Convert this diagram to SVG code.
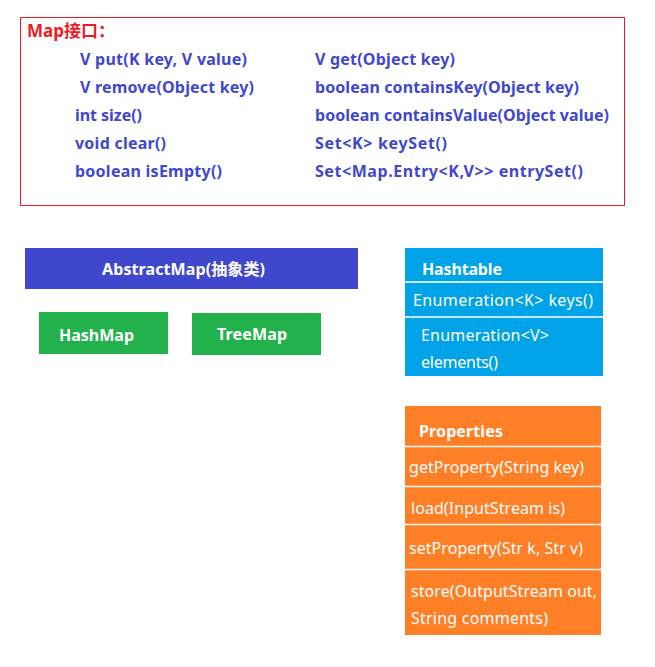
<svg xmlns="http://www.w3.org/2000/svg" width="655" height="667" viewBox="0 0 655 667">
<style>
text{font-family:"Noto Sans","Noto Sans CJK SC",sans-serif;font-size:16px}
.b{font-weight:bold}
.m{fill:#3f48cc;font-weight:bold}
.w{fill:#ffffff}
.sep{stroke:#ffffff;stroke-width:1.5}
</style>
<rect width="655" height="667" fill="#ffffff"/>
<g id="map-interface">
<rect x="20.5" y="17.5" width="604" height="188" fill="#ffffff" stroke="#ed1c24" stroke-width="1"/>
<text x="27" y="37" class="b" fill="#ed1c24" style="font-size:17px">Map接口<tspan x="98">：</tspan></text>
<text x="80" y="65" class="m" textLength="167">V put(K key, V value)</text>
<text x="80" y="93" class="m" textLength="174">V remove(Object key)</text>
<text x="75" y="121" class="m" textLength="67">int size()</text>
<text x="75" y="149" class="m" textLength="91">void clear()</text>
<text x="75" y="177" class="m" textLength="147">boolean isEmpty()</text>
<text x="315" y="65" class="m" textLength="140">V get(Object key)</text>
<text x="315" y="93" class="m" textLength="264">boolean containsKey(Object key)</text>
<text x="315" y="121" class="m" textLength="294">boolean containsValue(Object value)</text>
<text x="315" y="149" class="m" textLength="132">Set&lt;K&gt; keySet()</text>
<text x="315" y="177" class="m" textLength="268">Set&lt;Map.Entry&lt;K,V&gt;&gt; entrySet()</text>
</g>
<g id="abstractmap">
<rect x="25" y="248" width="333" height="41" fill="#3f48cc"/>
<text x="102" y="275" class="b w" textLength="163">AbstractMap(抽象类)</text>
</g>
<g id="hashmap">
<rect x="39" y="312" width="129" height="42" fill="#22b14c"/>
<text x="59" y="341" class="b w" textLength="75">HashMap</text>
</g>
<g id="treemap">
<rect x="192" y="313" width="129" height="42" fill="#22b14c"/>
<text x="217" y="340" class="b w" textLength="70">TreeMap</text>
</g>
<g id="hashtable">
<rect x="405" y="248" width="198" height="128" fill="#00a2e8"/>
<line x1="405" y1="282" x2="603" y2="282" class="sep"/>
<line x1="405" y1="317" x2="603" y2="317" class="sep"/>
<text x="422" y="275" class="b w" textLength="80">Hashtable</text>
<text x="413" y="306" class="w" textLength="180">Enumeration&lt;K&gt; keys()</text>
<text x="421" y="341" class="w" textLength="128">Enumeration&lt;V&gt;</text>
<text x="421" y="368" class="w" textLength="77">elements()</text>
</g>
<g id="properties">
<rect x="405" y="406" width="196" height="229" fill="#ff7f27"/>
<line x1="405" y1="446.5" x2="601" y2="446.5" class="sep"/>
<line x1="405" y1="486.5" x2="601" y2="486.5" class="sep"/>
<line x1="405" y1="524.5" x2="601" y2="524.5" class="sep"/>
<line x1="405" y1="569.5" x2="601" y2="569.5" class="sep"/>
<text x="419" y="437" class="b w" textLength="84">Properties</text>
<text x="409" y="473" class="w" textLength="175">getProperty(String key)</text>
<text x="411" y="514" class="w" textLength="154">load(InputStream is)</text>
<text x="409" y="554" class="w" textLength="174">setProperty(Str k, Str v)</text>
<text x="411" y="597" class="w" textLength="186">store(OutputStream out,</text>
<text x="411" y="624" class="w" textLength="137">String comments)</text>
</g>
</svg>
